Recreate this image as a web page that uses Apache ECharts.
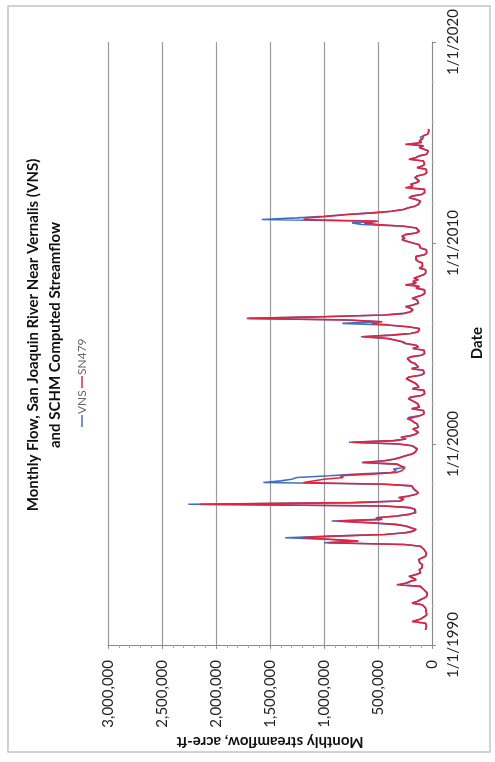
<!DOCTYPE html>
<html><head><meta charset="utf-8">
<script src="https://cdn.jsdelivr.net/npm/echarts@6/dist/echarts.min.js"></script>
<style>html,body{margin:0;padding:0;background:#fff;}#c{width:495px;height:762px;}</style>
</head><body><div id="c"></div>
<script>
// Monthly series, water years Oct 1990 - Sep 2015 (first value = Oct 1990)
const firstYear = 1990, firstMonthIndex = 9; // 9 = October (0-based)
const vns = [
 62000, 55000, 52000, 48000, 60000, 180000, 130000, 95000, 70000, 50000, 45000, 55000,
 70000, 60000, 65000, 90000, 185000, 140000, 110000, 75000, 50000, 42000, 45000, 58000,
 75000, 70000, 110000, 300000, 240000, 200000, 150000, 180000, 215000, 160000, 110000, 95000,
 120000, 95000, 85000, 90000, 115000, 105000, 125000, 95000, 60000, 50000, 55000, 62000,
 75000, 85000, 110000, 260000, 1000000, 700000, 950000, 1360000, 950000, 450000, 250000, 180000,
 150000, 160000, 250000, 350000, 600000, 929000, 480000, 520000, 330000, 220000, 160000, 150000,
 160000, 210000, 450000, 2256000, 750000, 300000, 270000, 310000, 220000, 150000, 130000, 140000,
 170000, 160000, 190000, 450000, 1562000, 1400000, 1300000, 1250000, 950000, 700000, 380000, 330000,
 358000, 260000, 300000, 330000, 651000, 450000, 350000, 300000, 250000, 190000, 160000, 170000,
 140000, 130000, 190000, 320000, 769000, 360000, 250000, 290000, 200000, 150000, 130000, 140000,
 180000, 130000, 120000, 140000, 170000, 190000, 230000, 210000, 110000, 75000, 65000, 80000,
 190000, 120000, 115000, 135000, 160000, 175000, 220000, 200000, 100000, 70000, 60000, 75000,
 185000, 125000, 130000, 150000, 180000, 190000, 240000, 215000, 110000, 75000, 65000, 80000,
 190000, 130000, 140000, 160000, 200000, 190000, 230000, 200000, 100000, 70000, 60000, 75000,
 180000, 130000, 150000, 250000, 280000, 263000, 420000, 658000, 380000, 200000, 130000, 120000,
 120000, 230000, 420000, 830000, 480000, 800000, 1716000, 1050000, 450000, 260000, 200000, 180000,
 200000, 247000, 180000, 130000, 120000, 140000, 185000, 200000, 90000, 70000, 60000, 70000,
 150000, 120000, 180000, 150000, 180000, 130000, 170000, 160000, 80000, 60000, 55000, 60000,
 120000, 90000, 80000, 90000, 130000, 150000, 165000, 150000, 70000, 50000, 45000, 55000,
 110000, 100000, 120000, 180000, 240000, 280000, 260000, 280000, 250000, 150000, 120000, 110000,
 150000, 265000, 650000, 740000, 520000, 1577000, 1250000, 1000000, 800000, 560000, 380000, 270000,
 220000, 160000, 130000, 120000, 110000, 150000, 215000, 190000, 100000, 70000, 60000, 70000,
 200000, 180000, 200000, 150000, 120000, 110000, 160000, 140000, 70000, 50000, 45000, 55000,
 140000, 90000, 70000, 60000, 80000, 215000, 150000, 120000, 50000, 40000, 35000, 40000,
 120000, 80000, 200000, 100000, 120000, 90000, 110000, 80000, 40000, 30000, 30000, 35000
];
const sn479 = [
 60000, 52000, 50000, 46000, 58000, 185000, 125000, 92000, 68000, 48000, 43000, 53000,
 68000, 58000, 62000, 88000, 185000, 135000, 105000, 72000, 48000, 40000, 43000, 56000,
 72000, 68000, 105000, 326000, 230000, 195000, 145000, 175000, 205000, 150000, 105000, 92000,
 115000, 92000, 82000, 88000, 110000, 100000, 120000, 92000, 58000, 48000, 52000, 60000,
 72000, 82000, 105000, 250000, 960000, 680000, 900000, 1200000, 900000, 430000, 240000, 170000,
 145000, 150000, 240000, 330000, 560000, 870000, 460000, 500000, 320000, 210000, 150000, 145000,
 155000, 200000, 430000, 2148000, 700000, 290000, 260000, 300000, 210000, 145000, 125000, 135000,
 165000, 155000, 185000, 420000, 1190000, 1190000, 1000000, 820000, 850000, 560000, 330000, 280000,
 263000, 250000, 290000, 320000, 640000, 430000, 340000, 290000, 240000, 180000, 155000, 165000,
 135000, 125000, 180000, 300000, 735000, 340000, 240000, 280000, 195000, 145000, 125000, 135000,
 175000, 125000, 115000, 135000, 165000, 185000, 220000, 205000, 105000, 72000, 62000, 78000,
 185000, 115000, 110000, 130000, 155000, 170000, 215000, 195000, 95000, 68000, 58000, 72000,
 180000, 120000, 125000, 145000, 175000, 185000, 235000, 210000, 105000, 72000, 62000, 78000,
 185000, 125000, 135000, 155000, 195000, 185000, 225000, 195000, 95000, 68000, 58000, 72000,
 175000, 125000, 145000, 240000, 270000, 255000, 400000, 636000, 370000, 195000, 125000, 115000,
 115000, 220000, 400000, 560000, 460000, 760000, 1700000, 1000000, 430000, 250000, 195000, 175000,
 195000, 235000, 175000, 125000, 115000, 135000, 180000, 195000, 85000, 65000, 58000, 68000,
 145000, 115000, 247000, 145000, 175000, 125000, 165000, 155000, 78000, 58000, 52000, 58000,
 115000, 88000, 78000, 88000, 125000, 145000, 160000, 145000, 68000, 48000, 43000, 52000,
 105000, 95000, 115000, 175000, 230000, 270000, 250000, 275000, 245000, 145000, 115000, 105000,
 145000, 255000, 500000, 630000, 500000, 1190000, 1150000, 950000, 780000, 540000, 370000, 260000,
 215000, 155000, 125000, 115000, 105000, 145000, 205000, 185000, 95000, 68000, 58000, 68000,
 247000, 175000, 195000, 145000, 115000, 105000, 155000, 135000, 68000, 48000, 43000, 52000,
 135000, 88000, 68000, 58000, 78000, 205000, 145000, 115000, 48000, 38000, 33000, 38000,
 115000, 78000, 247000, 95000, 115000, 88000, 105000, 78000, 38000, 28000, 28000, 33000
];
const seriesNames = ['VNS', 'SN479'];
const flowTicks = [0, 500000, 1000000, 1500000, 2000000, 2500000, 3000000];
const dateTicks = [1990, 2000, 2010, 2020];
const titleLines = ['Monthly Flow, San Joaquin River Near Vernalis (VNS)', 'and SCHM Computed Streamflow'];
const flowAxisTitle = 'Monthly streamflow, acre-ft';
const dateAxisTitle = 'Date';

const FONT = 'Lato, "Open Sans", sans-serif';
const BLUE = '#3f6fc2', RED = '#e4223c';

function monthTime(i) { return firstYear + (firstMonthIndex + i) / 12; }
const vnsData = vns.map((v, i) => [v, monthTime(i)]);
const snData = sn479.map((v, i) => [v, monthTime(i)]);

const chart = echarts.init(document.getElementById('c'), null, {renderer: 'canvas'});
chart.setOption({
  animation: false,
  backgroundColor: '#ffffff',
  grid: {left: 108, right: 63, top: 42, bottom: 117, containLabel: false},
  xAxis: {
    type: 'value', inverse: true, position: 'bottom',
    min: flowTicks[0], max: flowTicks[flowTicks.length - 1], interval: 500000,
    axisLine: {show: true, onZero: false, lineStyle: {color: '#8a8a8a', width: 1}},
    axisTick: {show: true, length: 4, lineStyle: {color: '#8a8a8a'}},
    minorTick: {show: true, splitNumber: 5, length: 3, lineStyle: {color: '#aaaaaa'}},
    splitLine: {show: true, lineStyle: {color: '#9a9a9a', width: 1.2}},
    axisLabel: {rotate: 90, margin: 15, fontFamily: FONT, fontSize: 15, color: '#222',
      formatter: v => Number(v).toLocaleString('en-US')}
  },
  yAxis: {
    type: 'value', position: 'right',
    min: dateTicks[0], max: dateTicks[dateTicks.length - 1], interval: 10,
    axisLine: {show: true, onZero: false, lineStyle: {color: '#8a8a8a', width: 1}},
    axisTick: {show: true, length: 4, lineStyle: {color: '#8a8a8a'}},
    minorTick: {show: true, splitNumber: 5, length: 2, lineStyle: {color: '#bbbbbb'}},
    splitLine: {show: false},
    axisLabel: {rotate: 90, margin: 14, fontFamily: FONT, fontSize: 15, color: '#222',
      formatter: v => '1/1/' + v}
  },
  series: [
    {name: seriesNames[0], type: 'line', data: vnsData, showSymbol: false, symbol: 'none',
     lineStyle: {color: BLUE, width: 1.6}, z: 2},
    {name: seriesNames[1], type: 'line', data: snData, showSymbol: false, symbol: 'none',
     lineStyle: {color: RED, width: 1.6}, z: 3}
  ],
  graphic: [
    {type: 'rect', shape: {x: 8, y: 6, width: 482, height: 746}, silent: true, z: -10,
     style: {fill: 'none', stroke: '#c4c4c4', lineWidth: 1.5}},
    {type: 'text', x: 33, y: 335, rotation: Math.PI / 2,
     style: {text: titleLines[0], font: 'bold 15px ' + FONT, fill: '#111', align: 'center', verticalAlign: 'middle'}},
    {type: 'text', x: 55, y: 335, rotation: Math.PI / 2,
     style: {text: titleLines[1], font: 'bold 15px ' + FONT, fill: '#111', align: 'center', verticalAlign: 'middle'}},
    {type: 'group', x: 82, y: 376, rotation: Math.PI / 2, children: [
      {type: 'line', shape: {x1: -51, y1: 0, x2: -39, y2: 0}, style: {stroke: BLUE, lineWidth: 1.5}},
      {type: 'text', x: -38, y: 0, style: {text: seriesNames[0], font: '12px ' + FONT, fill: '#666', align: 'left', verticalAlign: 'middle'}},
      {type: 'line', shape: {x1: -12, y1: 0, x2: 0, y2: 0}, style: {stroke: RED, lineWidth: 1.5}},
      {type: 'text', x: 1, y: 0, style: {text: seriesNames[1], font: '12px ' + FONT, fill: '#666', align: 'left', verticalAlign: 'middle'}}
    ]},
    {type: 'text', x: 270, y: 742, rotation: Math.PI,
     style: {text: flowAxisTitle, font: 'bold 15px ' + FONT, fill: '#111', align: 'center', verticalAlign: 'middle'}},
    {type: 'text', x: 477, y: 343, rotation: Math.PI / 2,
     style: {text: dateAxisTitle, font: 'bold 15px ' + FONT, fill: '#111', align: 'center', verticalAlign: 'middle'}}
  ]
});
</script></body></html>
